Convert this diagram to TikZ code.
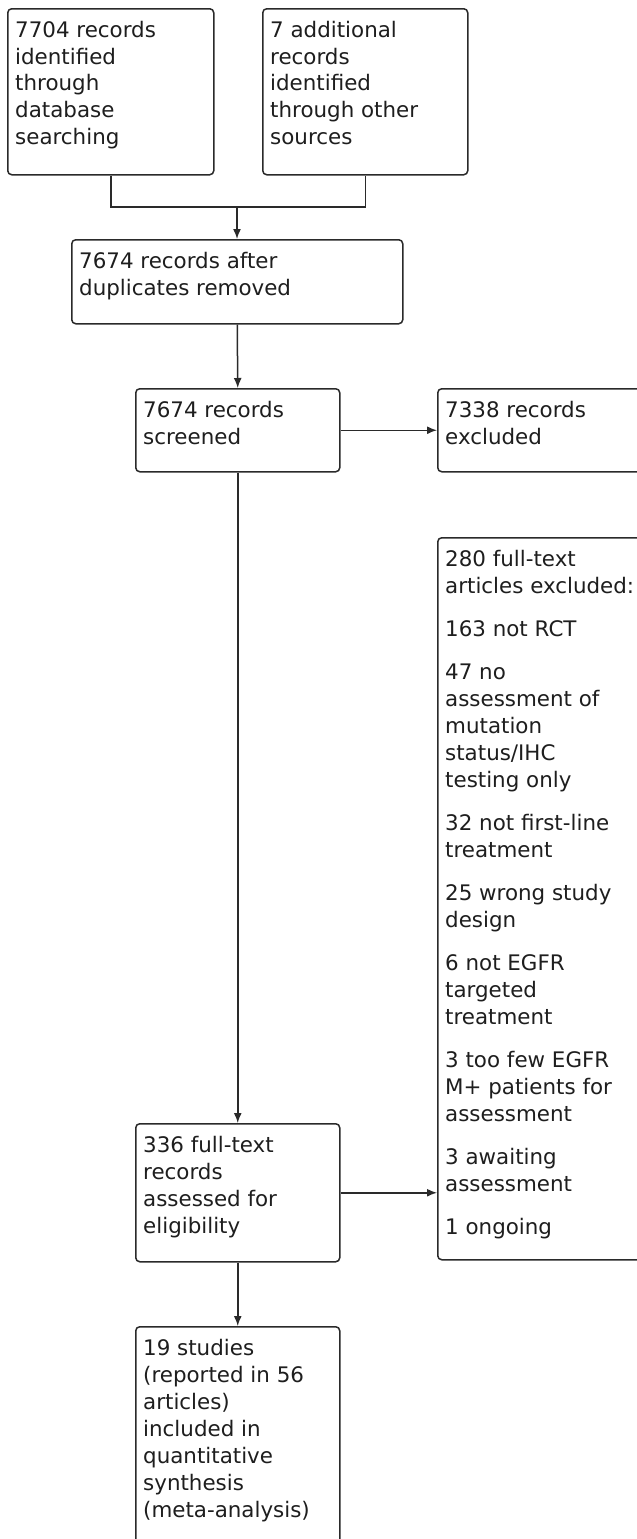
\documentclass[tikz,border=0pt]{standalone}
\usepackage{fontspec}
\setmainfont{DejaVu Sans}
\usetikzlibrary{arrows.meta,calc}
\definecolor{ln}{HTML}{2A2A2A}
\definecolor{tx}{HTML}{1E1E1E}
\tikzset{
  box/.style={draw=ln, line width=1.5pt, rounded corners=4pt, anchor=north west, inner sep=0pt},
  txt/.style={anchor=base west, inner sep=0pt, text=tx},
  conn/.style={draw=ln, line width=1.5pt},
  arr/.style={conn, -{Latex[length=10pt,width=8pt]}},
}
\newcommand{\boxtext}[1]{\parbox[t]{320pt}{\fontsize{21.4}{27}\selectfont\raggedright\setlength{\parskip}{16pt}#1}}
\begin{document}
\begin{tikzpicture}[x=1pt,y=-1pt]
\useasboundingbox (0,0) rectangle (637,1539);
\clip (0,0) rectangle (637,1539);
\fill[white] (0,0) rectangle (637,1539);
% boxes
\node[box, minimum width=206pt, minimum height=166pt] (A) at (7,8) {};
\node[box, minimum width=205pt, minimum height=166pt] (B) at (262,8) {};
\node[box, minimum width=331pt, minimum height=84pt] (C) at (71,239) {};
\node[box, minimum width=204pt, minimum height=83pt] (D) at (135,388) {};
\node[box, minimum width=300pt, minimum height=83pt] (E) at (437,388) {};
\node[box, minimum width=300pt, minimum height=722pt] (F) at (437,537) {};
\node[box, minimum width=204pt, minimum height=138pt] (G) at (135,1123) {};
\node[box, minimum width=204pt, minimum height=300pt] (H) at (135,1326) {};
% texts
\node[txt] (At) at ($(A.north west)+(8,29)$) {\boxtext{7704 records\\identified\\through\\database\\searching}};
\node[txt] (Bt) at ($(B.north west)+(8,29)$) {\boxtext{7 additional\\records\\identified\\through other\\sources}};
\node[txt] (Ct) at ($(C.north west)+(8,29)$) {\boxtext{7674 records after\\duplicates removed}};
\node[txt] (Dt) at ($(D.north west)+(8,29)$) {\boxtext{7674 records\\screened}};
\node[txt] (Et) at ($(E.north west)+(8,29)$) {\boxtext{7338 records\\excluded}};
\node[txt] (Ft) at ($(F.north west)+(8,29)$) {\boxtext{280 full-text\\articles excluded:\par
163 not RCT\par
47 no\\assessment of\\mutation\\status/IHC\\testing only\par
32 not first-line\\treatment\par
25 wrong study\\design\par
6 not EGFR\\targeted\\treatment\par
3 too few EGFR\\M+ patients for\\assessment\par
3 awaiting\\assessment\par
1 ongoing}};
\node[txt] (Gt) at ($(G.north west)+(8,29)$) {\boxtext{336 full-text\\records\\assessed for\\eligibility}};
\node[txt] (Ht) at ($(H.north west)+(8,29)$) {\boxtext{19 studies\\(reported in 56\\articles)\\included in\\quantitative\\synthesis\\(meta-analysis)}};
% connectors
\coordinate (J) at (237,207);
\draw[conn] (A.south) |- (J) -| (B.south);
\draw[arr] (J) -- (J |- C.north);
\draw[arr] (C.south) -- (D.north);
\draw[arr] (D.east) -- (E.west);
\draw[arr] (D.south) -- (G.north);
\draw[arr] (G.east) -- (G.east -| F.west);
\draw[arr] (G.south) -- (H.north);
\end{tikzpicture}
\end{document}
